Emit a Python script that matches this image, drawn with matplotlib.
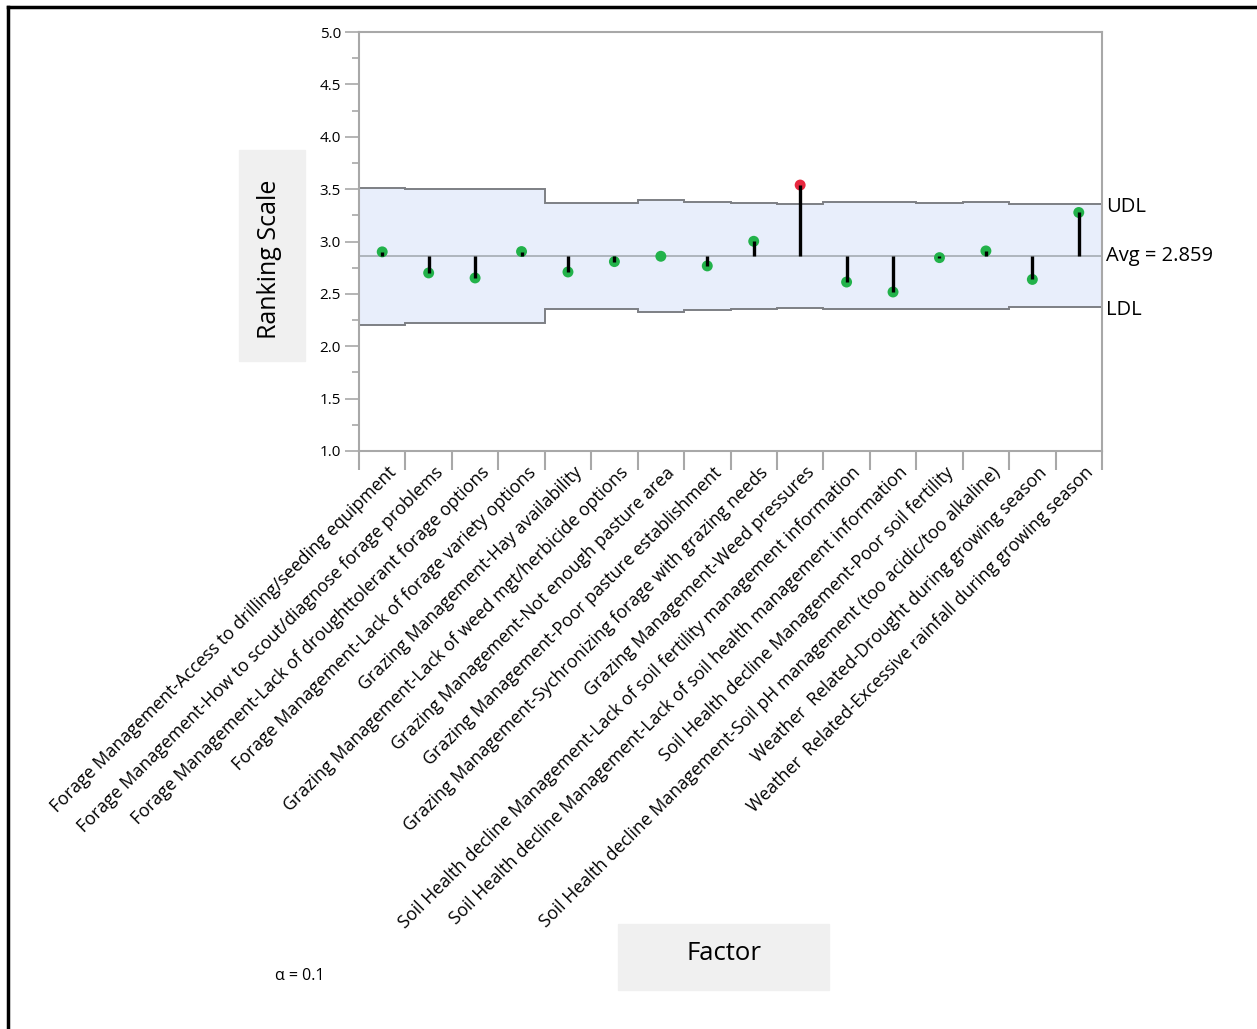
import numpy as np
import matplotlib
matplotlib.use("Agg")
import matplotlib.pyplot as plt
import matplotlib.transforms as mtransforms
from matplotlib.patches import Rectangle
from matplotlib.lines import Line2D

plt.rcParams['font.family'] = ['Open Sans', 'DejaVu Sans']

# factor levels (x axis)
factors = [
    "Forage Management-Access to drilling/seeding equipment",
    "Forage Management-How to scout/diagnose forage problems",
    "Forage Management-Lack of droughttolerant forage options",
    "Forage Management-Lack of forage variety options",
    "Grazing Management-Hay availability",
    "Grazing Management-Lack of weed mgt/herbicide options",
    "Grazing Management-Not enough pasture area",
    "Grazing Management-Poor pasture establishment",
    "Grazing Management-Sychronizing forage with grazing needs",
    "Grazing Management-Weed pressures",
    "Soil Health decline Management-Lack of soil fertility management information",
    "Soil Health decline Management-Lack of soil health management information",
    "Soil Health decline Management-Poor soil fertility",
    "Soil Health decline Management-Soil pH management (too acidic/too alkaline)",
    "Weather  Related-Drought during growing season",
    "Weather  Related-Excessive rainfall during growing season",
]

# group means
means = [2.901, 2.700, 2.652, 2.904, 2.709, 2.808, 2.859, 2.767,
         3.002, 3.539, 2.613, 2.518, 2.846, 2.910, 2.638, 3.277]

# upper / lower decision limits per group
udl = [3.514, 3.498, 3.498, 3.498, 3.370, 3.370, 3.392, 3.376,
       3.366, 3.361, 3.373, 3.373, 3.366, 3.373, 3.354, 3.354]
ldl = [2.207, 2.221, 2.221, 2.221, 2.353, 2.353, 2.329, 2.345,
       2.355, 2.364, 2.351, 2.351, 2.358, 2.351, 2.370, 2.370]

avg = 2.859
alpha = 0.1

W, H = 1257, 1029
fig = plt.figure(figsize=(W / 100, H / 100), dpi=100)
ax = fig.add_axes([359 / W, 1 - 451 / H, 743 / W, 419 / H])

n = len(factors)
x = np.arange(1, n + 1)
edges = np.arange(0.5, n + 1.5, 1.0)
means = np.array(means)
udl = np.array(udl)
ldl = np.array(ldl)

# decision limit band
ax.stairs(udl, edges, baseline=ldl, fill=True, color='#e8eefb', zorder=1)
ax.stairs(udl, edges, baseline=None, color='#7d7f84', lw=1.4, zorder=2)
ax.stairs(ldl, edges, baseline=None, color='#7d7f84', lw=1.4, zorder=2)
ax.axhline(avg, color='#a9b0b8', lw=1.3, zorder=2)

# points: red when outside the limits
out = (means > udl) | (means < ldl)
colors = np.where(out, '#e8283f', '#22b24a')
ax.scatter(x, means, s=62, c=colors, edgecolors='none', zorder=3)
ax.vlines(x, avg, means, color='black', lw=2.4, zorder=4)

ax.set_xlim(0.5, n + 0.5)
ax.set_ylim(1.0, 5.0)

ax.set_yticks(np.arange(1.0, 5.01, 0.5))
ax.set_yticks(np.arange(1.25, 5.0, 0.5), minor=True)
ax.set_yticklabels([f"{v:.1f}" for v in np.arange(1.0, 5.01, 0.5)], fontsize=11)

ax.set_xticks(x)
ax.set_xticks(edges, minor=True)
ax.set_xticklabels(factors, rotation=45, ha='right', rotation_mode='anchor',
                   fontsize=12.8)
ax.tick_params(axis='x', which='major', length=0, pad=9)
ax.tick_params(axis='x', which='minor', length=14, width=1.5, color='#a8a8a8')
ax.tick_params(axis='y', which='major', length=10, width=1.2, color='#a8a8a8', pad=3)
ax.tick_params(axis='y', which='minor', length=5, width=1.2, color='#a8a8a8')

# nudge factor labels so they end beside the tick centre
offset = mtransforms.ScaledTranslation(0.05, 0, fig.dpi_scale_trans)
for lab in ax.get_xticklabels():
    lab.set_transform(lab.get_transform() + offset)

for sp in ax.spines.values():
    sp.set_color('#a8a8a8')
    sp.set_linewidth(1.5)

# limit labels on the right
ytr = ax.get_yaxis_transform()
ax.text(1.006, udl[-1] - 0.02, "UDL", transform=ytr, va='center', ha='left', fontsize=14.5)
ax.text(1.006, avg, "Avg = 2.859", transform=ytr, va='center', ha='left', fontsize=14.5)
ax.text(1.006, ldl[-1] - 0.02, "LDL", transform=ytr, va='center', ha='left', fontsize=14.5)

# axis title boxes
fig.patches.append(Rectangle((239 / W, 1 - 361 / H), 66 / W, 211 / H,
                             transform=fig.transFigure, color='#f0f0f0', zorder=0))
fig.text(270 / W, 1 - 259 / H, "Ranking Scale", rotation=90, ha='center',
         va='center', fontsize=18)
fig.patches.append(Rectangle((618 / W, 1 - 990 / H), 211 / W, 66 / H,
                             transform=fig.transFigure, color='#f0f0f0', zorder=0))
fig.text(724 / W, 1 - 953 / H, "Factor", ha='center', va='center', fontsize=18.5)

fig.text(275 / W, 1 - 976 / H, f"α = {alpha}", ha='left', va='center', fontsize=11.5)

# outer frame
fig.add_artist(Line2D([8 / W, 8 / W], [0, 1 - 7 / H], transform=fig.transFigure,
                      color='black', lw=2.5))
fig.add_artist(Line2D([8 / W, 1], [1 - 7 / H, 1 - 7 / H], transform=fig.transFigure,
                      color='black', lw=2.5))

fig.savefig("out.png", dpi=100)
